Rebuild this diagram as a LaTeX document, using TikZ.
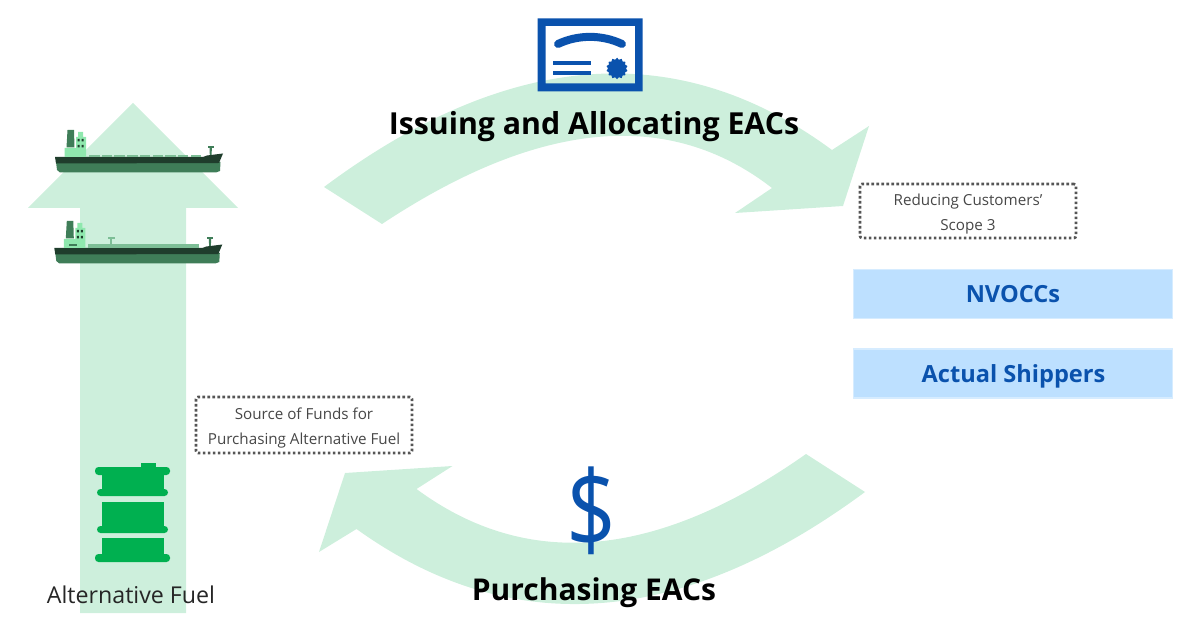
\documentclass[tikz,border=0pt]{standalone}
\usepackage{fontspec}
\setmainfont{Open Sans}
\usetikzlibrary{shapes.geometric}
\definecolor{mint}{HTML}{CDEFDC}
\definecolor{skybox}{HTML}{BDE0FF}
\definecolor{skyedge}{HTML}{D6ECFF}
\definecolor{navy}{HTML}{0A52AD}
\definecolor{barrelgreen}{HTML}{00B050}
\definecolor{hulldark}{HTML}{1F3D2C}
\definecolor{hullmid}{HTML}{3F7D58}
\definecolor{cabin}{HTML}{8FE8AE}
\definecolor{deckgreen}{HTML}{7DBE96}
\definecolor{noteline}{HTML}{555555}
\tikzset{
  flow/.style={fill=mint,draw=none},
  targetbox/.style={fill=skybox,draw=skyedge,line width=1.5pt,minimum width=319pt,minimum height=49pt,inner sep=0pt},
  targetlabel/.style={anchor=base,inner sep=0pt,text=navy,font=\fontsize{23.6}{27}\selectfont\bfseries},
  notebox/.style={draw=noteline,line width=2.6pt,dash pattern=on 2.6pt off 2.4pt,rounded corners=2pt,
    minimum width=216pt,inner sep=0pt,align=center,text=black!72,font=\fontsize{15.2}{25}\selectfont},
  steptitle/.style={anchor=base,text=black,font=\fontsize{30.3}{36}\selectfont\bfseries,inner sep=0pt},
  barrelpart/.style={fill=barrelgreen,draw=none},
  barrelrim/.style={fill=barrelgreen,draw=none,rounded corners=3.5pt},
}
\newcommand{\shiphull}{%
  \fill[hullmid] (56,162) -- (220.5,162) -- (220,171) -- (216,172.5) -- (60,172.5) -- (57,170) -- cycle;
  \fill[hulldark] (55,157) -- (203,157) -- (207,155.5) -- (223,153.5) -- (219,163) -- (56,163.5) -- cycle;
  \fill[cabin] (64.5,148) -- (76,148) -- (76,137) -- (78,137) -- (78,132) -- (83,132) -- (83,137) -- (86,137) -- (86,157) -- (64.5,157) -- cycle;
  \fill[hullmid] (67.5,130) -- (74,130) -- (74.5,147.5) -- (66.5,147.5) -- cycle;
  \fill[hulldark] (77.5,139) rectangle (79.5,141.5) (81.5,139) rectangle (83.5,141.5)
                  (77.5,145) rectangle (79.5,147.5) (81.5,145) rectangle (83.5,147.5);
  \fill[hullmid] (209.5,147) -- (212,147) -- (211.5,155) -- (209.8,155) -- cycle;
  \fill[hullmid] (208,146) rectangle (213.5,148);
}
\begin{document}
\begin{tikzpicture}[x=1pt,y=-1pt]
\useasboundingbox (0,0) rectangle (1200,628);
% up arrow
\fill[flow] (133,103) -- (238,208) -- (186,208) -- (186,613) -- (80,613) -- (80,208) -- (28,208) -- cycle;
% top circular arrow
\fill[flow] (324,187) .. controls (509,49) and (679,37) .. (832,150)
  -- (869,126) -- (843,206) -- (735,213) -- (772,188)
  .. controls (669,108) and (539,120) .. (382,224) -- cycle;
% bottom circular arrow
\fill[flow] (865,492) .. controls (681,628) and (511,640) .. (356.5,529)
  -- (319,552) -- (345,473) -- (452.5,466) -- (416.5,489)
  .. controls (527.5,571) and (657,559) .. (806,454) -- cycle;
% certificate
\fill[navy,even odd rule] (537.5,18.5) rectangle (642.5,91.5) (545.5,26) rectangle (635,83.5);
\draw[navy,line width=8pt,line cap=round] (558,44) .. controls (578,34.5) and (602,34.5) .. (622,44);
\draw[navy,line width=4.5pt] (553,63) -- (591,63);
\draw[navy,line width=4.5pt] (553,73) -- (591,73);
\fill[navy] (617,68.5) circle (8.5);
\node[star,star points=14,star point ratio=1.2,fill=navy,minimum size=21.5pt,inner sep=0pt] (seal) at (617,68.5) {};
% ships
\begin{scope}
  \shiphull
  \foreach \i in {0,...,8} \fill[deckgreen] ({89+\i*12.7},154.8) rectangle ({99.5+\i*12.7},157);
\end{scope}
\begin{scope}[shift={(-0.7,91)}]
  \shiphull
  \fill[deckgreen] (89,153.5) rectangle (200,157);
  \fill[deckgreen] (110.5,147) rectangle (112.5,154);
  \fill[deckgreen] (109,146) rectangle (116,148);
  \fill[hullmid] (70,153) rectangle (78,155.5);
\end{scope}
% barrel
\fill[barrelpart] (141,463) rectangle (156,468);
\fill[barrelrim] (95,467) rectangle (170,475);
\fill[barrelpart] (102,475) rectangle (164,490);
\fill[barrelrim] (97,489) rectangle (168,496);
\fill[barrelpart] (102,502) rectangle (164,527);
\fill[barrelrim] (97,526) rectangle (168,533);
\fill[barrelpart] (102,538) rectangle (164,555);
\fill[barrelrim] (95,554) rectangle (170,562);
% labels
\node[anchor=base,text=black!85,inner sep=0pt,font=\fontsize{23.2}{27}\selectfont] (fuel) at (131,603.5) {Alternative Fuel};
\node[steptitle] (issue) at (594,135) {Issuing and Allocating EACs};
\node[steptitle,font=\fontsize{30}{36}\selectfont\bfseries] (buy) at (594,600.5) {Purchasing EACs};
\node[text=navy,inner sep=0pt,font=\fontsize{92}{100}\selectfont] (dollar) at (591.5,511) {\scalebox{.95}[1.17]{\$}};
\node[notebox,minimum height=54pt] (scope3) at (968,211) {\rule{0pt}{17pt}Reducing Customers’\\Scope 3};
\node[notebox,minimum height=56pt] (funds) at (304,425) {\rule{0pt}{17pt}Source of Funds for\\Purchasing Alternative Fuel};
\node[targetbox] (nvocc) at (1013,294) {};
\node[targetbox] (shippers) at (1013,373.5) {};
\node[targetlabel] (nvocclabel) at (1013,302.5) {NVOCCs};
\node[targetlabel] (shipperslabel) at (1013.5,382) {Actual Shippers};
\end{tikzpicture}
\end{document}
